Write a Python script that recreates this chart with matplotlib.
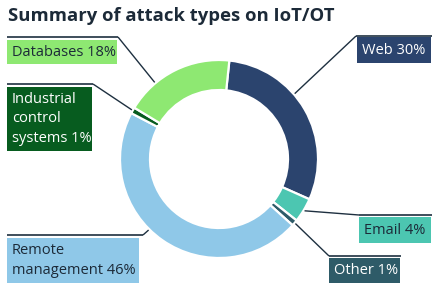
import numpy as np
import matplotlib
matplotlib.use("Agg")
import matplotlib.pyplot as plt
from matplotlib.patches import Rectangle

plt.rcParams['font.family'] = ['Open Sans', 'DejaVu Sans']

# data
labels = ["Web 30%", "Email 4%", "Other 1%", "Remote\nmanagement 46%",
          "Industrial\ncontrol\nsystems 1%", "Databases 18%"]
values = [30, 4, 1, 46, 1, 18]
colors = ["#2b446e", "#4cc6b1", "#2e5b68", "#8fc8e8", "#075c1f", "#8ee872"]
text_colors = ["white", "#1c2a38", "white", "#1c2a38", "white", "#1c2a38"]
# where along each wedge the leader line starts (fraction of the wedge)
anchor_frac = [0.40, 0.5, 0.5, 0.56, 0.5, 0.29]

# label boxes in pixel coords (left, top, right, bottom), image y downward
boxes = [(357, 37, 431, 63), (359, 217, 431, 243), (329, 258, 400, 283),
         (7, 238, 139, 283), (7, 87, 92, 151), (7, 40, 117, 64)]
# top line of each box: x range, y, and elbow point where the leader joins
toplines = [(356, 432, 36, 356), (359, 432, 215, 359), (329, 401, 256, 329),
            (7, 143, 235, 143), (7, 93, 84, 93), (7, 118, 37, 118)]

W, H = 438, 298
cx, cy, R, ring = 219, 159, 99, 30
start = 84

fig = plt.figure(figsize=(W / 100, H / 100), dpi=100)
ax = fig.add_axes([0, 0, 1, 1])

wedges, _ = ax.pie(values, colors=colors, startangle=start, counterclock=False,
                   center=(cx, H - cy), radius=R,
                   wedgeprops=dict(width=ring, edgecolor="white", linewidth=1.6))
ax.set_xlim(0, W)
ax.set_ylim(0, H)
ax.set_aspect("auto")
ax.axis("off")

line_col = "#1e3040"
for w, lab, bx, tl, tc, fc, fr in zip(wedges, labels, boxes, toplines, text_colors, colors, anchor_frac):
    # angle on the wedge where leader line starts
    ang = np.deg2rad(w.theta2 - fr * (w.theta2 - w.theta1))
    px = cx + (R + 1) * np.cos(ang)
    py = (H - cy) + (R + 1) * np.sin(ang)
    x0, x1, ly, ex = tl
    ax.plot([px, ex], [py, H - ly], color=line_col, lw=1.0, solid_capstyle="butt")
    ax.plot([x0, x1], [H - ly, H - ly], color=line_col, lw=1.2, solid_capstyle="butt")
    l, t, r, b = bx
    ax.add_patch(Rectangle((l, H - b), r - l, b - t, facecolor=fc, edgecolor="none"))
    ax.text(l + 5, H - (t + b) / 2, lab, ha="left", va="center", color=tc,
            fontsize=10.5, linespacing=1.4)

ax.text(8, H - 16, "Summary of attack types on IoT/OT", ha="left", va="center",
        fontsize=13.3, fontweight="bold", color="#1c2a38")

fig.savefig("out.png", dpi=100)
